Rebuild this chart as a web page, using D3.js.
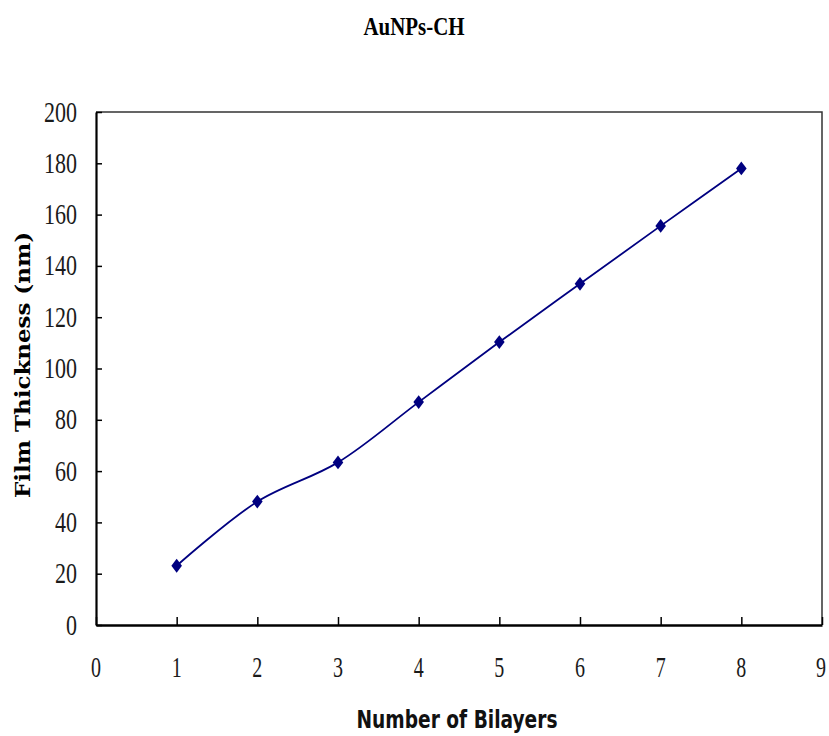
<!DOCTYPE html>
<html>
<head>
<meta charset="UTF-8">
<title>AuNPs-CH</title>
<script src="https://d3js.org/d3.v7.min.js"></script>
<style>
  body { margin: 0; background: #fff; }
  svg { display: block; }
</style>
</head>
<body>
<div id="chart"></div>
<script>
// data
const bilayers = [1, 2, 3, 4, 5, 6, 7, 8];
const thickness = [23.1, 48.1, 63.4, 86.9, 110.3, 133.0, 155.6, 178.0];
const xTicks = [0, 1, 2, 3, 4, 5, 6, 7, 8, 9];
const yTicks = [0, 20, 40, 60, 80, 100, 120, 140, 160, 180, 200];

const width = 829, height = 736;
const margin = { left: 96, right: 7, top: 112, bottom: 111 };

const svg = d3.select("#chart").append("svg")
  .attr("width", width)
  .attr("height", height);

const x = d3.scaleLinear().domain([0, 9]).range([margin.left, width - margin.right]);
const y = d3.scaleLinear().domain([0, 200]).range([height - margin.bottom, margin.top]);

// frame: top and right thinner
svg.append("path")
  .attr("d", `M${x(0)},${y(200)}H${x(9)}V${y(0)}`)
  .attr("fill", "none")
  .attr("stroke", "#333")
  .attr("stroke-width", 1.5);

// y axis, ticks pointing inward
const yAxis = svg.append("g")
  .attr("transform", `translate(${x(0)},0)`)
  .call(d3.axisRight(y).tickValues(yTicks).tickSize(6).tickSizeOuter(0).tickFormat(""));
yAxis.select(".domain").attr("stroke", "#000").attr("stroke-width", 2.2);
yAxis.selectAll(".tick line").attr("stroke", "#000").attr("stroke-width", 1.5);

// x axis, ticks pointing up
const xAxis = svg.append("g")
  .attr("transform", `translate(0,${y(0)})`)
  .call(d3.axisTop(x).tickValues(xTicks).tickSize(8).tickSizeOuter(0).tickFormat(""));
xAxis.select(".domain").attr("stroke", "#000").attr("stroke-width", 2.4);
xAxis.selectAll(".tick line").attr("stroke", "#000").attr("stroke-width", 1.5);

// tick labels in a narrow serif
function tickText(sel) {
  sel.attr("font-family", "Liberation Serif, serif")
    .attr("font-size", 29)
    .attr("fill", "#1a1a1a")
    .attr("lengthAdjust", "spacingAndGlyphs");
}

svg.append("g").selectAll("text")
  .data(yTicks)
  .join("text")
  .call(tickText)
  .attr("x", x(0) - 19)
  .attr("y", d => y(d) + 9.5)
  .attr("text-anchor", "end")
  .attr("textLength", d => String(d).length * 11)
  .text(d => d);

svg.append("g").selectAll("text")
  .data(xTicks)
  .join("text")
  .call(tickText)
  .attr("x", d => x(d) - (d === 9 ? 1 : 0))
  .attr("y", y(0) + 52)
  .attr("text-anchor", "middle")
  .attr("textLength", 10)
  .text(d => d);

// smoothed line like the spreadsheet one
const line = d3.line()
  .x((d, i) => x(bilayers[i]))
  .y(d => y(d))
  .curve(d3.curveCatmullRom.alpha(0.5));

svg.append("path")
  .datum(thickness)
  .attr("d", line)
  .attr("fill", "none")
  .attr("stroke", "#000080")
  .attr("stroke-width", 1.8);

// diamond markers: a rotated square stretched vertically
const marker = d3.symbol().type(d3.symbolSquare).size(56);
svg.append("g").selectAll("path")
  .data(thickness)
  .join("path")
  .attr("d", marker)
  .attr("transform", (d, i) => `translate(${x(bilayers[i])},${y(d)}) scale(1,1.3) rotate(45)`)
  .attr("fill", "#000080");

// title
svg.append("text")
  .attr("x", 414)
  .attr("y", 35)
  .attr("text-anchor", "middle")
  .attr("font-family", "Liberation Serif, serif")
  .attr("font-weight", "bold")
  .attr("font-size", 25)
  .attr("textLength", 101)
  .attr("lengthAdjust", "spacingAndGlyphs")
  .text("AuNPs-CH");

// axis titles
svg.append("text")
  .attr("x", 457)
  .attr("y", 728)
  .attr("text-anchor", "middle")
  .attr("font-family", "DejaVu Sans Condensed, DejaVu Sans, sans-serif")
  .attr("font-weight", "bold")
  .attr("font-size", 24)
  .attr("fill", "#111")
  .attr("textLength", 201)
  .attr("lengthAdjust", "spacingAndGlyphs")
  .text("Number of Bilayers");

svg.append("text")
  .attr("transform", "translate(30,365) rotate(-90)")
  .attr("text-anchor", "middle")
  .attr("font-family", "DejaVu Serif, serif")
  .attr("font-weight", "bold")
  .attr("font-size", 20)
  .attr("textLength", 266)
  .attr("lengthAdjust", "spacingAndGlyphs")
  .text("Film Thickness (nm)");
</script>
</body>
</html>
